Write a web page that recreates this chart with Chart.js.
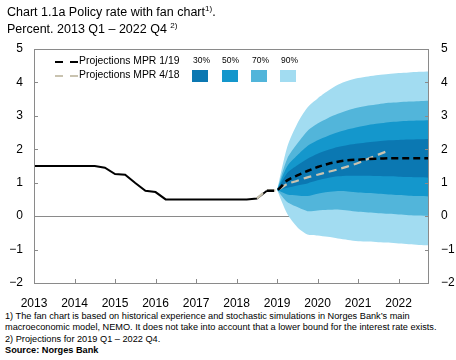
<!DOCTYPE html>
<html>
<head>
<meta charset="utf-8">
<script src="https://cdn.jsdelivr.net/npm/chart.js@4"></script>
<style>
  body { margin: 0; background: #fff; font-family: "Liberation Sans", Arial, sans-serif; }
  #wrap { position: relative; width: 456px; height: 360px; overflow: hidden; }
  #chart { position: absolute; left: 0; top: 0; }
  .t { position: absolute; white-space: nowrap; color: #000; }
  .title { left: 7px; font-size: 12.5px; }
  .title sup { font-size: 8px; }
  .leg { font-size: 10.4px; }
  .pct { font-size: 8.5px; }
  .sw { position: absolute; width: 16px; height: 12px; }
  .dash { position: absolute; width: 8px; height: 2px; }
  .notes { left: 5px; top: 311px; font-size: 9.2px; line-height: 11.3px; }
</style>
</head>
<body>
<div id="wrap">
  <canvas id="chart" width="456" height="310"></canvas>

  <div class="t title" style="top:4px">Chart 1.1a Policy rate with fan chart<sup>1)</sup>.</div>
  <div class="t title" style="top:21px">Percent. 2013 Q1 – 2022 Q4 <sup>2)</sup></div>

  <div class="dash" style="left:55px;top:61px;background:#000"></div>
  <div class="dash" style="left:70px;top:61px;background:#000"></div>
  <div class="t leg" style="left:79px;top:55px">Projections MPR 1/19</div>
  <div class="dash" style="left:55px;top:75px;background:#c9c3b0"></div>
  <div class="dash" style="left:70px;top:75px;background:#c9c3b0"></div>
  <div class="t leg" style="left:79px;top:69px">Projections MPR 4/18</div>

  <div class="t pct" style="left:193px;top:55px">30%</div>
  <div class="t pct" style="left:222px;top:55px">50%</div>
  <div class="t pct" style="left:252px;top:55px">70%</div>
  <div class="t pct" style="left:281px;top:55px">90%</div>
  <div class="sw" style="left:192px;top:70px;background:#0b78b2"></div>
  <div class="sw" style="left:222px;top:70px;background:#1497cc"></div>
  <div class="sw" style="left:251px;top:70px;background:#52b5da"></div>
  <div class="sw" style="left:280px;top:70px;background:#a2dcf1"></div>

  <div class="t notes">1) The fan chart is based on historical experience and stochastic simulations in Norges Bank’s main<br>macroeconomic model, NEMO. It does not take into account that a lower bound for the interest rate exists.<br>2) Projections for 2019 Q1 – 2022 Q4.<br><b>Source: Norges Bank</b></div>
</div>

<script>
// x axis: quarter index 0 = 2013 Q1 ... 39 = 2022 Q4
const years = ['2013', '2014', '2015', '2016', '2017', '2018', '2019', '2020', '2021', '2022'];

// policy rate, 2013 Q1 - 2018 Q4
const policyRate = [1.5, 1.5, 1.5, 1.5, 1.5, 1.5, 1.5, 1.45, 1.26, 1.24, 0.99, 0.76,
                    0.72, 0.5, 0.5, 0.5, 0.5, 0.5, 0.5, 0.5, 0.5, 0.5, 0.53, 0.76];

// MPR 1/19 path, 2018 Q4 - 2022 Q4
const mpr119Start = 23;
const mpr119 = [0.76, 0.78, 1.07, 1.22, 1.35, 1.47, 1.56, 1.63, 1.67, 1.69, 1.71, 1.72,
                1.73, 1.73, 1.73, 1.73, 1.73];

// MPR 4/18 path, 2018 Q3 - 2021 Q4
const mpr418Start = 22;
const mpr418 = [0.53, 0.76, 0.78, 0.96, 1.06, 1.16, 1.24, 1.32, 1.40, 1.49, 1.59, 1.72, 1.84, 1.96];

// fan bands, 2019 Q1 - 2022 Q4
const fanStart = 24;
const lo30 = [0.78, 0.85, 0.92, 0.98, 1.07, 1.14, 1.19, 1.21, 1.21, 1.21, 1.20, 1.19, 1.18, 1.17, 1.16, 1.15];
const hi30 = [0.78, 1.29, 1.52, 1.72, 1.87, 1.98, 2.07, 2.13, 2.17, 2.21, 2.24, 2.27, 2.28, 2.29, 2.30, 2.31];
const lo50 = [0.78, 0.65, 0.62, 0.60, 0.67, 0.72, 0.75, 0.74, 0.71, 0.69, 0.67, 0.65, 0.63, 0.61, 0.60, 0.59];
const hi50 = [0.78, 1.49, 1.82, 2.10, 2.27, 2.40, 2.51, 2.60, 2.67, 2.73, 2.77, 2.81, 2.83, 2.85, 2.86, 2.87];
const lo70 = [0.78, 0.42, 0.27, 0.15, 0.17, 0.19, 0.20, 0.17, 0.13, 0.11, 0.09, 0.07, 0.05, 0.03, 0.02, 0.01];
const hi70 = [0.78, 1.72, 2.17, 2.55, 2.77, 2.93, 3.06, 3.17, 3.25, 3.31, 3.35, 3.39, 3.41, 3.43, 3.44, 3.45];
const lo90 = [0.78, 0.07, -0.33, -0.55, -0.58, -0.62, -0.67, -0.71, -0.75, -0.76, -0.78, -0.79, -0.82, -0.84, -0.86, -0.87];
const hi90 = [0.78, 2.07, 2.77, 3.25, 3.52, 3.74, 3.93, 4.05, 4.13, 4.18, 4.22, 4.25, 4.28, 4.30, 4.32, 4.33];

const yTicks = [-2, -1, 0, 1, 2, 3, 4, 5];

const FONT = '"Liberation Sans", Arial, sans-serif';
const FRAME = '#8a8a8a';

function pts(arr, start) {
    return arr.map((v, i) => ({ x: start + i, y: v }));
}

function band(arr, color, fill) {
    return {
        data: pts(arr, fanStart),
        borderWidth: 0,
        pointRadius: 0,
        backgroundColor: color,
        fill: fill,
        tension: 0.25
    };
}

function label(v) {
    return v < 0 ? '\u2212' + Math.abs(v) : String(v);
}

// frame with small inward ticks
const framePlugin = {
    id: 'frame',
    afterDatasetsDraw(chart) {
        const { ctx, chartArea: a, scales } = chart;
        ctx.save();
        ctx.strokeStyle = FRAME;
        ctx.lineWidth = 1;
        ctx.strokeRect(a.left + 0.5, a.top + 0.5, a.right - a.left - 1, a.bottom - a.top);
        ctx.beginPath();
        yTicks.forEach(v => {
            const y = Math.round(scales.y.getPixelForValue(v)) + 0.5;
            ctx.moveTo(a.left, y); ctx.lineTo(a.left + 4, y);
            ctx.moveTo(a.right - 4, y); ctx.lineTo(a.right, y);
        });
        years.forEach((yr, i) => {
            const x = Math.round(scales.x.getPixelForValue(i * 4)) + 0.5;
            ctx.moveTo(x, a.bottom); ctx.lineTo(x, a.bottom - 4);
        });
        ctx.stroke();
        ctx.restore();
    }
};

const ctx = document.getElementById('chart').getContext('2d');
const chart = new Chart(ctx, {
    type: 'line',
    data: {
        datasets: [
            { data: pts(mpr119, mpr119Start), borderColor: '#000', borderWidth: 2.5, borderDash: [7, 4], pointRadius: 0, tension: 0.3, fill: false },
            { data: pts(mpr418, mpr418Start), borderColor: '#c9c3b0', borderWidth: 2.2, borderDash: [8, 5], pointRadius: 0, tension: 0.3, fill: false },
            { data: pts(policyRate, 0), borderColor: '#000', borderWidth: 2, pointRadius: 0, tension: 0, fill: false },
            band(hi30, '#0b78b2', '+1'),
            band(lo30, 'transparent', false),
            band(hi50, '#1497cc', '+1'),
            band(lo50, 'transparent', false),
            band(hi70, '#52b5da', '+1'),
            band(lo70, 'transparent', false),
            band(hi90, '#a2dcf1', '+1'),
            band(lo90, 'transparent', false)
        ]
    },
    options: {
        responsive: false,
        animation: false,
        devicePixelRatio: 1,
        layout: { padding: { top: 49, left: 0, right: 0, bottom: 0 } },
        plugins: { legend: { display: false }, tooltip: { enabled: false } },
        scales: {
            x: {
                type: 'linear',
                min: 0,
                max: 39,
                afterFit(s) { s.height = 27; },
                grid: { display: false },
                border: { display: false },
                ticks: {
                    stepSize: 4,
                    includeBounds: false,
                    autoSkip: false,
                    maxRotation: 0,
                    padding: 5,
                    color: '#000',
                    font: { family: FONT, size: 12 },
                    callback: v => (v % 4 === 0 ? years[v / 4] : '')
                }
            },
            y: {
                position: 'left',
                min: -2,
                max: 5,
                afterFit(s) { s.width = 34; },
                border: { display: false },
                grid: {
                    drawTicks: false,
                    color: c => (c.tick && c.tick.value === 0 ? FRAME : 'transparent')
                },
                ticks: { stepSize: 1, padding: 11, color: '#000', font: { family: FONT, size: 12 }, callback: label }
            },
            y2: {
                position: 'right',
                min: -2,
                max: 5,
                afterFit(s) { s.width = 27; },
                border: { display: false },
                grid: { display: false, drawTicks: false },
                ticks: { stepSize: 1, padding: 12, color: '#000', font: { family: FONT, size: 12 }, callback: label }
            }
        }
    },
    plugins: [framePlugin]
});
</script>
</body>
</html>
